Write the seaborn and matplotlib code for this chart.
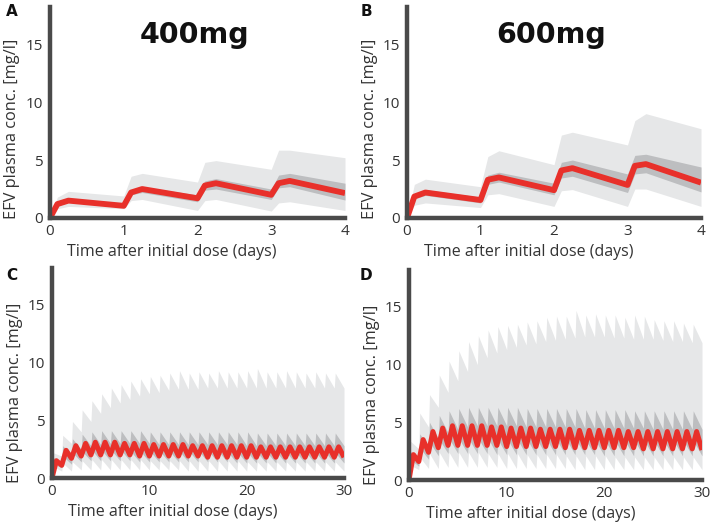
import numpy as np
import matplotlib
matplotlib.use("Agg")
import matplotlib.pyplot as plt
import seaborn as sns

# ---- data (EFV plasma conc., mg/l) ----
# top panels: first 4 days
t_top = [0, 0.1, 0.25, 1.0, 1.1, 1.25, 2.0, 2.1, 2.25, 3.0, 3.1, 3.25, 4.0]

a_median = [0, 1.2, 1.5, 1.05, 2.2, 2.5, 1.7, 2.8, 3.0, 2.0, 3.0, 3.2, 2.15]
a_p95 = [0, 1.8, 2.3, 1.9, 3.6, 3.85, 3.1, 4.8, 4.95, 4.2, 5.85, 5.85, 5.2]
a_p5 = [0, 0.8, 1.0, 0.8, 1.5, 1.6, 0.65, 1.5, 1.6, 0.6, 1.3, 1.4, 0.65]
a_p75 = [0, 1.35, 1.65, 1.2, 2.45, 2.7, 2.0, 3.2, 3.4, 2.5, 3.7, 3.85, 3.0]
a_p25 = [0, 1.05, 1.35, 0.95, 2.0, 2.2, 1.4, 2.4, 2.5, 1.6, 2.6, 2.7, 1.55]

b_median = [0, 1.85, 2.2, 1.55, 3.3, 3.5, 2.4, 4.1, 4.3, 2.85, 4.5, 4.65, 3.05]
b_p95 = [0, 2.9, 3.35, 2.7, 5.3, 5.8, 4.6, 7.15, 7.4, 6.3, 8.4, 9.0, 7.7]
b_p5 = [0, 1.1, 1.3, 0.9, 2.0, 2.1, 1.0, 2.35, 2.45, 1.0, 2.5, 2.5, 1.0]
b_p75 = [0, 2.05, 2.45, 1.8, 3.7, 3.95, 3.0, 4.8, 5.0, 3.8, 5.4, 5.5, 4.4]
b_p25 = [0, 1.65, 1.95, 1.3, 2.9, 3.1, 2.0, 3.45, 3.6, 2.2, 3.8, 3.9, 2.25]

# bottom panels: value just after each daily dose (peak) and just before the next (trough)
c_med_peak = [1.5, 2.4, 2.8, 3.0, 3.1, 3.1, 3.1, 3.0, 3.0, 3.0, 2.9, 2.9, 2.9, 2.9, 2.8,
              2.8, 2.8, 2.8, 2.8, 2.8, 2.8, 2.7, 2.7, 2.7, 2.7, 2.7, 2.7, 2.7, 2.7, 2.7]
c_med_trough = [1.1, 1.7, 1.9, 2.0, 2.0, 2.0, 2.0, 2.0, 1.9, 1.9, 1.9, 1.9, 1.9, 1.9, 1.9,
                1.8, 1.8, 1.8, 1.8, 1.8, 1.8, 1.8, 1.8, 1.8, 1.8, 1.8, 1.8, 1.8, 1.8, 1.8]
c_p95_peak = [2.2, 3.7, 4.9, 5.9, 6.7, 7.3, 7.8, 8.1, 8.4, 8.6, 8.8, 8.9, 9.1, 9.3, 9.1,
              9.2, 9.1, 9.3, 9.2, 9.2, 9.3, 9.5, 9.2, 9.2, 9.3, 9.2, 9.1, 9.2, 9.1, 9.1]
c_p95_trough = [1.9, 3.0, 4.0, 4.9, 5.6, 6.1, 6.5, 6.8, 7.1, 7.3, 7.4, 7.6, 7.7, 7.7, 7.7,
                7.8, 7.8, 7.8, 7.8, 7.8, 7.8, 7.8, 7.8, 7.8, 7.8, 7.8, 7.8, 7.8, 7.8, 7.8]
c_p75_peak = [1.8, 2.8, 3.4, 3.8, 4.0, 4.1, 4.1, 4.1, 4.1, 4.1, 4.0, 4.0, 4.0, 4.0, 4.0,
              4.0, 4.0, 4.0, 4.0, 4.0, 4.0, 3.9, 3.9, 3.9, 3.9, 3.9, 3.9, 3.9, 3.9, 3.9]
c_p75_trough = [1.3, 2.0, 2.5, 2.8, 2.9, 3.0, 3.0, 3.0, 3.0, 3.0, 2.9, 2.9, 2.9, 2.9, 2.9,
                2.9, 2.9, 2.9, 2.9, 2.8, 2.8, 2.8, 2.8, 2.8, 2.8, 2.8, 2.8, 2.8, 2.8, 2.8]
c_p25_peak = [1.2, 1.9, 2.2, 2.3, 2.4, 2.4, 2.4, 2.4, 2.3, 2.3, 2.3, 2.3, 2.3, 2.3, 2.3,
              2.3, 2.3, 2.3, 2.2, 2.2, 2.2, 2.2, 2.2, 2.2, 2.2, 2.2, 2.2, 2.2, 2.2, 2.2]
c_p25_trough = [0.9, 1.2, 1.4, 1.5, 1.5, 1.5, 1.5, 1.5, 1.4, 1.4, 1.4, 1.4, 1.4, 1.4, 1.4,
                1.4, 1.4, 1.4, 1.3, 1.3, 1.3, 1.3, 1.3, 1.3, 1.3, 1.3, 1.3, 1.3, 1.3, 1.3]
c_p5_peak = [1.0, 1.3, 1.4, 1.5, 1.6, 1.6, 1.6, 1.6, 1.6, 1.6, 1.5, 1.5, 1.5, 1.5, 1.5,
             1.5, 1.5, 1.5, 1.5, 1.5, 1.4, 1.4, 1.4, 1.4, 1.4, 1.4, 1.4, 1.4, 1.4, 1.4]
c_p5_trough = [0.6, 0.6, 0.7, 0.7, 0.7, 0.7, 0.7, 0.7, 0.7, 0.7, 0.7, 0.7, 0.7, 0.6, 0.6,
               0.6, 0.6, 0.6, 0.6, 0.6, 0.6, 0.6, 0.6, 0.6, 0.6, 0.6, 0.6, 0.6, 0.6, 0.6]

d_med_peak = [2.2, 3.5, 4.2, 4.5, 4.7, 4.7, 4.7, 4.7, 4.6, 4.6, 4.5, 4.5, 4.5, 4.4, 4.4,
              4.4, 4.4, 4.3, 4.3, 4.3, 4.3, 4.3, 4.2, 4.2, 4.2, 4.2, 4.2, 4.2, 4.2, 4.2]
d_med_trough = [1.6, 2.4, 2.8, 3.0, 3.0, 3.0, 3.0, 3.0, 3.0, 2.9, 2.9, 2.9, 2.9, 2.9, 2.9,
                2.8, 2.8, 2.8, 2.8, 2.8, 2.8, 2.8, 2.8, 2.7, 2.7, 2.7, 2.7, 2.7, 2.7, 2.6]
d_p95_peak = [3.4, 5.8, 7.4, 9.1, 10.3, 11.2, 12.0, 12.5, 13.0, 13.3, 13.4, 13.5, 13.7, 13.8, 14.1,
              14.2, 14.2, 14.7, 14.3, 14.4, 14.3, 14.3, 14.1, 14.3, 14.2, 13.9, 13.8, 13.8, 13.6, 13.5]
d_p95_trough = [2.7, 4.6, 6.3, 7.6, 8.6, 9.4, 10.0, 10.6, 11.0, 11.3, 11.5, 11.7, 11.8, 12.0, 12.1,
                12.2, 12.3, 12.4, 12.4, 12.4, 12.3, 12.3, 12.2, 12.2, 12.2, 12.1, 12.0, 12.0, 11.9, 11.9]
d_p75_peak = [2.5, 4.0, 5.0, 5.6, 6.0, 6.2, 6.3, 6.3, 6.3, 6.3, 6.3, 6.3, 6.2, 6.2, 6.2,
              6.2, 6.2, 6.2, 6.1, 6.1, 6.1, 6.1, 6.1, 6.0, 6.0, 6.0, 6.0, 6.0, 6.0, 6.0]
d_p75_trough = [1.9, 2.9, 3.6, 4.1, 4.4, 4.6, 4.7, 4.7, 4.7, 4.7, 4.7, 4.6, 4.6, 4.6, 4.6,
                4.6, 4.6, 4.5, 4.5, 4.5, 4.5, 4.5, 4.5, 4.5, 4.4, 4.4, 4.4, 4.4, 4.4, 4.4]
d_p25_peak = [1.8, 2.8, 3.3, 3.5, 3.6, 3.6, 3.6, 3.6, 3.6, 3.5, 3.5, 3.5, 3.5, 3.5, 3.5,
              3.5, 3.5, 3.5, 3.4, 3.4, 3.4, 3.4, 3.4, 3.4, 3.4, 3.4, 3.4, 3.4, 3.4, 3.4]
d_p25_trough = [1.2, 1.8, 2.1, 2.3, 2.3, 2.3, 2.3, 2.3, 2.2, 2.2, 2.2, 2.2, 2.2, 2.2, 2.2,
                2.2, 2.2, 2.2, 2.2, 2.1, 2.1, 2.1, 2.1, 2.1, 2.1, 2.1, 2.1, 2.1, 2.1, 2.1]
d_p5_peak = [1.3, 2.0, 2.3, 2.4, 2.4, 2.4, 2.4, 2.4, 2.3, 2.3, 2.3, 2.3, 2.2, 2.2, 2.2,
             2.2, 2.1, 2.1, 2.1, 2.1, 2.1, 2.0, 2.0, 2.0, 2.0, 2.0, 2.0, 2.0, 2.0, 2.0]
d_p5_trough = [0.9, 1.0, 1.0, 1.1, 1.1, 1.1, 1.1, 1.1, 1.1, 1.0, 1.0, 1.0, 1.0, 1.0, 1.0,
               1.0, 0.9, 0.9, 0.9, 0.9, 0.9, 0.9, 0.9, 0.9, 0.9, 0.9, 0.9, 0.9, 0.9, 0.9]

doses = ["400mg", "600mg"]
panel_letters = ["A", "B", "C", "D"]

RED = "#e8302a"
LIGHT = "#e6e7e8"
DARK = "#bdbec0"
AXC = "#4a4a4a"
TXT = "#333333"


def sawtooth(peaks, troughs, rise):
    # dose at each whole day: quick rise to the peak, decay to the trough before next dose
    t, y = [0.0], [0.0]
    for day, (p, tr) in enumerate(zip(peaks, troughs)):
        t += [day + rise, day + 1]
        y += [p, tr]
    return np.array(t), np.array(y)


def draw(ax, t, med, lo5, hi95, lo25, hi75, t_med=None, lw=4.0):
    ax.fill_between(t, lo5, hi95, color=LIGHT, lw=0)
    ax.fill_between(t, lo25, hi75, color=DARK, lw=0)
    if t_med is None:
        t_med = t
    sns.lineplot(x=t_med, y=med, ax=ax, color=RED, lw=lw, sort=False,
                 solid_joinstyle="round", solid_capstyle="butt")


sns.set_style("white")
plt.rcParams["font.family"] = ["Open Sans", "DejaVu Sans"]

fig = plt.figure(figsize=(7.1, 5.29), dpi=100)
W, H = 710, 529
boxes = [(50, 7, 295, 211), (407, 7, 294, 211), (52, 268, 292, 210), (409, 270, 293, 210)]
axes = [fig.add_axes([x / W, 1 - (y + h) / H, w / W, h / H]) for x, y, w, h in boxes]

top = [(a_median, a_p5, a_p95, a_p25, a_p75), (b_median, b_p5, b_p95, b_p25, b_p75)]
for ax, (med, p5, p95, p25, p75) in zip(axes[:2], top):
    draw(ax, np.array(t_top), med, p5, p95, p25, p75, lw=4.2)

bottom = [
    (c_med_peak, c_med_trough, c_p5_peak, c_p5_trough, c_p95_peak, c_p95_trough,
     c_p25_peak, c_p25_trough, c_p75_peak, c_p75_trough),
    (d_med_peak, d_med_trough, d_p5_peak, d_p5_trough, d_p95_peak, d_p95_trough,
     d_p25_peak, d_p25_trough, d_p75_peak, d_p75_trough),
]
for ax, s in zip(axes[2:], bottom):
    tm, med = sawtooth(s[0], s[1], 0.45)
    t, p5 = sawtooth(s[2], s[3], 0.1)
    _, p95 = sawtooth(s[4], s[5], 0.1)
    _, p25 = sawtooth(s[6], s[7], 0.1)
    _, p75 = sawtooth(s[8], s[9], 0.1)
    draw(ax, t, med, p5, p95, p25, p75, t_med=tm, lw=3.6)

ylabel_y = [0.424, 0.424, 0.405, 0.405]
for i, ax in enumerate(axes):
    ax.set_ylim(0, 18.2)
    if i < 2:
        ax.set_xlim(0, 4)
        ax.set_xticks([0, 1, 2, 3, 4])
    else:
        ax.set_xlim(0, 30)
        ax.set_xticks([0, 10, 20, 30])
    ax.set_yticks([0, 5, 10, 15])
    for side in ["top", "right"]:
        ax.spines[side].set_visible(False)
    for side in ["left", "bottom"]:
        ax.spines[side].set_linewidth(3.2)
        ax.spines[side].set_color(AXC)
        ax.spines[side].set_zorder(5)
    ax.tick_params(axis="y", direction="in", length=6, width=2.2, color=AXC,
                   labelsize=11, labelcolor=TXT, pad=5)
    ax.tick_params(axis="x", length=0, labelsize=11, labelcolor=TXT, pad=4)
    ax.set_xlabel("Time after initial dose (days)", fontsize=11.5, color=TXT)
    ax.set_ylabel("EFV plasma conc. [mg/l]", fontsize=11.8, color=TXT)
    ax.xaxis.set_label_coords(0.414, -0.125)
    ax.yaxis.set_label_coords(-0.1, ylabel_y[i])
    ax.set_facecolor("none")

for ax, dose in zip(axes[:2], doses):
    ax.text(0.49, 0.865, dose, transform=ax.transAxes, ha="center", va="center",
            fontsize=20.5, fontweight="bold", family="DejaVu Sans", color="#111111")

letter_pos = [(12, 11), (366, 11), (12, 276), (366, 276)]
for (x, y), letter in zip(letter_pos, panel_letters):
    fig.text(x / W, 1 - y / H, letter, ha="center", va="center", fontsize=11,
             fontweight="bold", family="DejaVu Sans", color="#111111")

fig.savefig("out.png", dpi=100)
